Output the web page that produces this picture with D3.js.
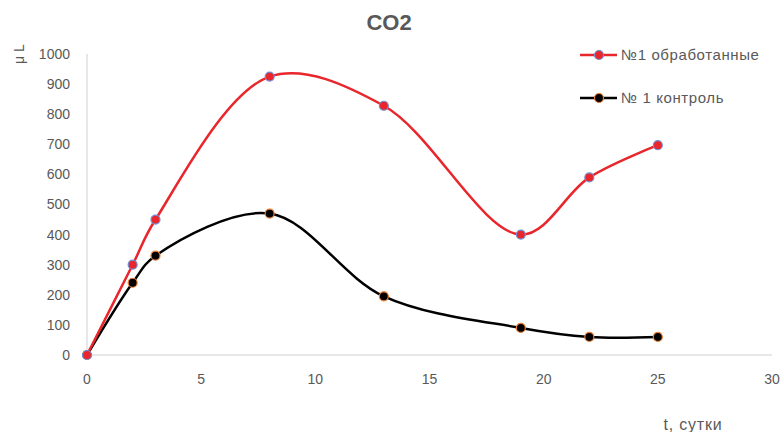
<!DOCTYPE html>
<html><head><meta charset="utf-8">
<script src="https://cdn.jsdelivr.net/npm/d3@7"></script>
<style>body{margin:0;background:#fff;} text{font-family:"Liberation Sans",Arial,sans-serif;}</style>
</head><body>
<svg id="c" width="784" height="432"></svg>
<script>
const days = [0, 2, 3, 8, 13, 19, 22, 25];
const treated = [0, 300, 450, 925, 828, 400, 590, 697];
const control = [0, 240, 330, 470, 195, 90, 60, 60];
const seriesNames = ["№1 обработанные", "№ 1 контроль"];
const xTicks = [0, 5, 10, 15, 20, 25, 30];
const yTicks = [0, 100, 200, 300, 400, 500, 600, 700, 800, 900, 1000];

const svg = d3.select("#c");
const x = d3.scaleLinear().domain([0, 30]).range([87, 772]);
const y = d3.scaleLinear().domain([0, 1000]).range([355, 54]);
const grey = "#595959";

svg.append("line").attr("x1", x(0)).attr("x2", x(0)).attr("y1", y(1000)).attr("y2", y(0)).attr("stroke", "#d0d0d0").attr("stroke-width", 1);
svg.append("line").attr("x1", x(0)).attr("x2", x(30)).attr("y1", y(0)).attr("y2", y(0)).attr("stroke", "#d0d0d0").attr("stroke-width", 1);

svg.selectAll(".yt").data(yTicks).enter().append("text")
  .attr("x", 70).attr("y", d => y(d)).attr("dy", "0.35em").attr("text-anchor", "end")
  .attr("font-size", 14).attr("fill", grey).text(d => d);
svg.selectAll(".xt").data(xTicks).enter().append("text")
  .attr("x", d => x(d)).attr("y", 379).attr("dy", "0.35em").attr("text-anchor", "middle")
  .attr("font-size", 14).attr("fill", grey).text(d => d);

svg.append("text").attr("x", 389).attr("y", 22).attr("dy", "0.35em").attr("text-anchor", "middle")
  .attr("font-size", 22).attr("font-weight", "bold").attr("fill", grey).text("CO2");
svg.append("text").attr("transform", "translate(19,54) rotate(-90)").attr("dy", "0.35em").attr("text-anchor", "middle")
  .attr("font-size", 14).attr("fill", grey).text("μ L");
svg.append("text").attr("x", 693).attr("y", 424).attr("dy", "0.35em").attr("text-anchor", "middle")
  .attr("font-size", 16).attr("fill", grey).attr("letter-spacing", 0.8).text("t, сутки");

const line = d3.line().x(d => x(d[0])).y(d => y(d[1])).curve(d3.curveCatmullRom.alpha(0.5));
const series = [
  {vals: control, color: "#000000", fill: "#000000", stroke: "#ED7D31"},
  {vals: treated, color: "#E8262B", fill: "#E8262B", stroke: "#6F8FD8"}
];
series.forEach(s => {
  const pts = days.map((d, i) => [d, s.vals[i]]);
  svg.append("path").datum(pts).attr("d", line).attr("fill", "none").attr("stroke", s.color).attr("stroke-width", 2.5);
  svg.selectAll(null).data(pts).enter().append("circle")
    .attr("cx", d => x(d[0])).attr("cy", d => y(d[1])).attr("r", 4.5)
    .attr("fill", s.fill).attr("stroke", s.stroke).attr("stroke-width", 1.2);
});

const leg = [
  {name: seriesNames[0], color: "#E8262B", stroke: "#6F8FD8", y: 55},
  {name: seriesNames[1], color: "#000000", stroke: "#ED7D31", y: 98}
];
leg.forEach(l => {
  svg.append("line").attr("x1", 580).attr("x2", 617).attr("y1", l.y).attr("y2", l.y).attr("stroke", l.color).attr("stroke-width", 2.5);
  svg.append("circle").attr("cx", 599).attr("cy", l.y).attr("r", 4.5).attr("fill", l.color).attr("stroke", l.stroke).attr("stroke-width", 1.2);
  svg.append("text").attr("x", 621).attr("y", l.y).attr("dy", "0.35em").attr("font-size", 15).attr("letter-spacing", 0.6).attr("fill", grey).text(l.name);
});
</script>
</body></html>
